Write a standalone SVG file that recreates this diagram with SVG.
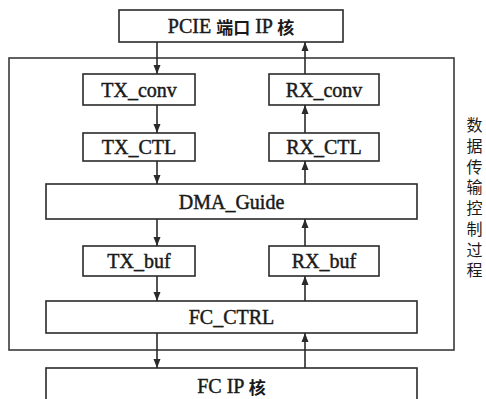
<svg xmlns="http://www.w3.org/2000/svg" width="486" height="399" viewBox="0 0 486 399">
  <style>
    .box { fill: #ffffff; stroke: #2a2a2a; stroke-width: 1.6; }
    .frame { fill: none; stroke: #3a3a3a; stroke-width: 1.6; }
    .lbl { font-family: "Liberation Serif", "DejaVu Serif", serif; font-size: 20px; fill: #1a1a1a; stroke: #1a1a1a; stroke-width: 0.45; text-anchor: middle; dominant-baseline: central; }
    .cjk { font-family: "Noto Sans CJK SC", sans-serif; font-weight: bold; font-size: 17px; stroke-width: 0; }
    .side { font-family: "Noto Sans CJK SC", sans-serif; font-size: 16px; fill: #1a1a1a; writing-mode: vertical-rl; letter-spacing: 4.75px; }
    .wire { stroke: #2a2a2a; stroke-width: 1.6; fill: none; marker-end: url(#head); }
  </style>
  <defs>
    <marker id="head" viewBox="0 0 9 10" refX="9" refY="5" markerWidth="9" markerHeight="10" markerUnits="userSpaceOnUse" orient="auto">
      <path d="M0,1.5 L9,5 L0,8.5 Z" fill="#2a2a2a"/>
    </marker>
  </defs>
  <rect width="486" height="399" fill="#ffffff"/>

  <!-- enclosing frame for the data transfer control logic -->
  <rect class="frame" x="9" y="58" width="445" height="292"/>

  <g id="pcie-ip">
    <rect class="box" x="119" y="10" width="224" height="32"/>
    <text class="lbl" x="231" y="26">PCIE <tspan class="cjk">端口</tspan> IP <tspan class="cjk">核</tspan></text>
  </g>
  <g id="tx-conv">
    <rect class="box" x="83" y="74" width="112" height="31"/>
    <text class="lbl" x="139" y="90">TX_conv</text>
  </g>
  <g id="rx-conv">
    <rect class="box" x="269" y="74" width="110" height="31"/>
    <text class="lbl" x="324" y="90">RX_conv</text>
  </g>
  <g id="tx-ctl">
    <rect class="box" x="83" y="133" width="112" height="28"/>
    <text class="lbl" x="139" y="147">TX_CTL</text>
  </g>
  <g id="rx-ctl">
    <rect class="box" x="269" y="133" width="110" height="28"/>
    <text class="lbl" x="324" y="147">RX_CTL</text>
  </g>
  <g id="dma-guide">
    <rect class="box" x="46" y="184" width="371" height="35"/>
    <text class="lbl" x="231.5" y="201.5">DMA_Guide</text>
  </g>
  <g id="tx-buf">
    <rect class="box" x="83" y="246" width="112" height="30"/>
    <text class="lbl" x="139" y="261">TX_buf</text>
  </g>
  <g id="rx-buf">
    <rect class="box" x="269" y="246" width="110" height="30"/>
    <text class="lbl" x="324" y="261">RX_buf</text>
  </g>
  <g id="fc-ctrl">
    <rect class="box" x="46" y="301" width="371" height="32"/>
    <text class="lbl" x="231.5" y="317">FC_CTRL</text>
  </g>
  <g id="fc-ip">
    <rect class="box" x="46" y="368" width="371" height="40"/>
    <text class="lbl" x="231.5" y="386">FC IP <tspan class="cjk">核</tspan></text>
  </g>

  <g id="side-label">
    <text class="side" x="474.5" y="117">数据传输控制过程</text>
  </g>

  <g id="connectors">
    <!-- transmit path, downward -->
    <line class="wire" x1="157" y1="42" x2="157" y2="74"/>
    <line class="wire" x1="157" y1="105" x2="157" y2="133"/>
    <line class="wire" x1="157" y1="161" x2="157" y2="184"/>
    <line class="wire" x1="157" y1="219" x2="157" y2="246"/>
    <line class="wire" x1="157" y1="276" x2="157" y2="301"/>
    <line class="wire" x1="157" y1="333" x2="157" y2="368"/>
    <!-- receive path, upward -->
    <line class="wire" x1="305" y1="74" x2="305" y2="42"/>
    <line class="wire" x1="305" y1="133" x2="305" y2="105"/>
    <line class="wire" x1="305" y1="184" x2="305" y2="161"/>
    <line class="wire" x1="305" y1="246" x2="305" y2="219"/>
    <line class="wire" x1="305" y1="301" x2="305" y2="276"/>
    <line class="wire" x1="305" y1="368" x2="305" y2="333"/>
  </g>
</svg>
